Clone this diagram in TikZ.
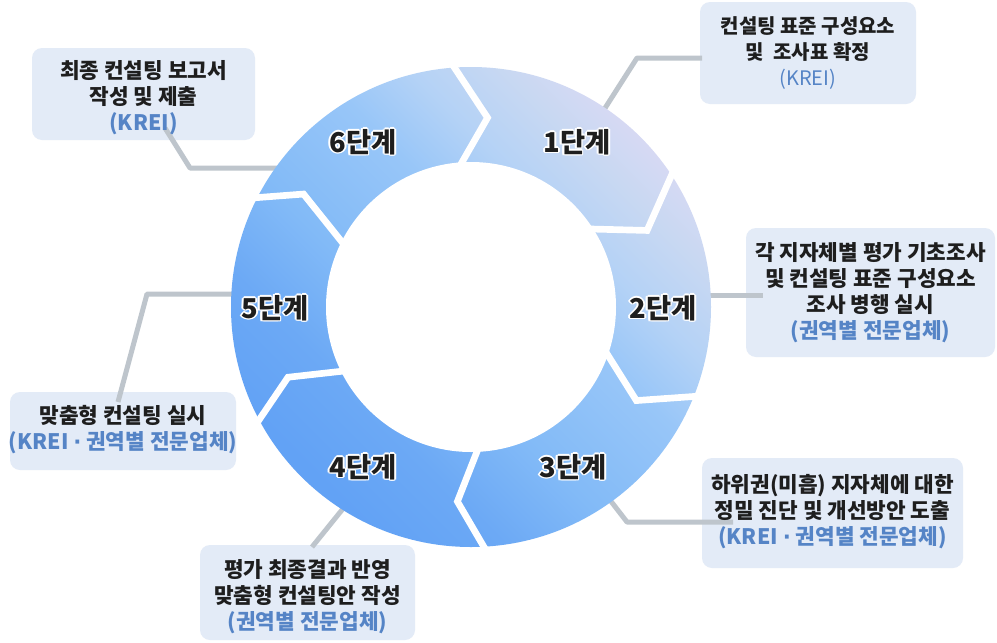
\documentclass[tikz,border=0pt]{standalone}
\usepackage{fontspec}
\newfontfamily\kr{Noto Sans CJK KR}
\newfontfamily\dv{DejaVu Sans}
\usetikzlibrary{calc}
\definecolor{boxfill}{HTML}{E3EBF7}
\definecolor{txt}{HTML}{1E1E1E}
\definecolor{bluetxt}{HTML}{5584C6}
\definecolor{conn}{HTML}{BEC5CC}
\definecolor{rgA}{HTML}{62A2F5}
\definecolor{rgB}{HTML}{6CA9F5}
\definecolor{rgC}{HTML}{82BAF7}
\definecolor{rgD}{HTML}{98C6F8}
\definecolor{rgE}{HTML}{B4D2F6}
\definecolor{rgF}{HTML}{C8D8F2}
\definecolor{rgG}{HTML}{DCDAF4}
\pgfdeclareverticalshading{ringsh}{100bp}{color(0bp)=(rgG); color(36.5bp)=(rgG); color(40bp)=(rgF); color(43.5bp)=(rgE); color(47bp)=(rgD); color(53bp)=(rgC); color(57.5bp)=(rgB); color(62bp)=(rgA); color(100bp)=(rgA)}
\newcommand\hoff[3]{\rlap{\kern#1\raisebox{#2}{\color{white}#3}}}
\newcommand\halo[1]{\hoff{-1.3pt}{0pt}{#1}\hoff{1.3pt}{0pt}{#1}\hoff{0pt}{1.3pt}{#1}\hoff{0pt}{-1.3pt}{#1}\hoff{-.9pt}{.9pt}{#1}\hoff{.9pt}{.9pt}{#1}\hoff{-.9pt}{-.9pt}{#1}\hoff{.9pt}{-.9pt}{#1}#1}
\newcommand\mdot{{\dv ·}}
\begin{document}
\begin{tikzpicture}[x=0.75pt,y=0.75pt,
  boxshape/.style={fill=boxfill, draw=none, rounded corners=7.5pt, inner sep=0pt},
  boxtext/.style={inner sep=0pt, align=center, text=txt, font=\kr\bfseries\fontsize{16}{19.5}\selectfont},
  conline/.style={draw=conn, line width=3.75pt, line join=round},
  gapline/.style={draw=white, line width=5pt, line join=miter},
  stagelbl/.style={inner sep=0pt, text=txt, font=\kr\bfseries\fontsize{20.5}{24}\selectfont}]
\useasboundingbox (0,0) rectangle (997,-643);
\fill[white] (0,0) rectangle (997,-643);

% boxes
\node[boxshape, minimum width=162pt, minimum height=76.5pt] (b1) at (808,-53) {};
\node[boxshape, minimum width=167.25pt, minimum height=69pt] (b6) at (143.5,-94) {};
\node[boxshape, minimum width=186.75pt, minimum height=96.75pt] (b2) at (870.5,-292.5) {};
\node[boxshape, minimum width=195.75pt, minimum height=82.5pt] (b3) at (832.5,-513) {};
\node[boxshape, minimum width=169.5pt, minimum height=58.5pt] (b5) at (123,-431) {};
\node[boxshape, minimum width=161.25pt, minimum height=71.25pt] (b4) at (307.5,-592.5) {};

% connectors
\coordinate (c) at (471,-307);
\coordinate (r1) at (600,-116); \coordinate (k1) at (637,-58); \coordinate (e1) at (702,-58);
\coordinate (e6) at (165,-128); \coordinate (k6) at (190,-168); \coordinate (r6) at (290,-168);
\coordinate (r2) at (700,-295); \coordinate (e2) at (763,-295);
\coordinate (r3) at (603,-491); \coordinate (k3) at (627,-522); \coordinate (e3) at (733,-522);
\coordinate (r5) at (245,-294); \coordinate (k5) at (147,-294); \coordinate (e5) at (118,-402);
\coordinate (r4) at (350,-500); \coordinate (e4) at (312,-547);
\draw[conline] (r1) -- (k1) -- (e1);
\draw[conline] (e6) -- (k6) -- (r6);
\draw[conline] (r2) -- (e2);
\draw[conline] (r3) -- (k3) -- (e3);
\draw[conline] (r5) -- (k5) -- (e5);
\draw[conline] (r4) -- (e4);

% ring
\begin{scope}
\clip (c) circle (240);
\shade[shading=ringsh, shading angle=135] ($(c)+(-481,-481)$) rectangle ($(c)+(481,481)$);
\end{scope}
\fill[white] (c) circle (145);

% gaps between segments
\draw[gapline] ($(c)+(95:248)$) -- ($(c)+(85:190)$) -- ($(c)+(95.5:138)$);
\draw[gapline] ($(c)+(34.5:248)$) -- ($(c)+(23.5:192)$) -- ($(c)+(34.5:138)$);
\draw[gapline] ($(c)+(-21:248)$) -- ($(c)+(-29.5:190)$) -- ($(c)+(-17:138)$);
\draw[gapline] ($(c)+(-86:248)$) -- ($(c)+(-94:195)$) -- ($(c)+(-86.4:138)$);
\draw[gapline] ($(c)+(-151:248)$) -- ($(c)+(-159:196)$) -- ($(c)+(-152.6:138)$);
\draw[gapline] ($(c)+(154:248)$) -- ($(c)+(146:202)$) -- ($(c)+(154.5:138)$);

% stage labels
\node[stagelbl] (s1) at (577,-142) {\halo{1단계}};
\node[stagelbl] (s2) at (663,-308) {\halo{2단계}};
\node[stagelbl] (s3) at (573,-467) {\halo{3단계}};
\node[stagelbl] (s4) at (363,-467) {\halo{4단계}};
\node[stagelbl] (s5) at (275,-308) {\halo{5단계}};
\node[stagelbl] (s6) at (363,-142) {\halo{6단계}};

% box texts
\node[boxtext, font=\kr\bfseries\fontsize{15}{19.8}\selectfont] (t1) at (b1.center) {컨설팅 표준 구성요소\\및~~조사표 확정\\{\mdseries\color{bluetxt}(KREI)}};
\node[boxtext] (t6) at ($(b6.center)+(0,-4)$) {최종 컨설팅 보고서\\작성 및 제출\\{\color{bluetxt}(KREI)}};
\node[boxtext] (t2) at (b2.center) {각 지자체별 평가 기초조사\\및 컨설팅 표준 구성요소\\조사 병행 실시\\{\color{bluetxt}(권역별 전문업체)}};
\node[boxtext] (t3) at ($(b3.center)+(0,1)$) {하위권(미흡) 지자체에 대한\\정밀 진단 및 개선방안 도출\\{\color{bluetxt}(KREI \mdot{} 권역별 전문업체)}};
\node[boxtext] (t5) at ($(b5.center)+(0,1)$) {맞춤형 컨설팅 실시\\{\color{bluetxt}(KREI \mdot{} 권역별 전문업체)}};
\node[boxtext] (t4) at ($(b4.center)+(0,-4)$) {평가 최종결과 반영\\맞춤형 컨설팅안 작성\\{\color{bluetxt}(권역별 전문업체)}};
\end{tikzpicture}
\end{document}
